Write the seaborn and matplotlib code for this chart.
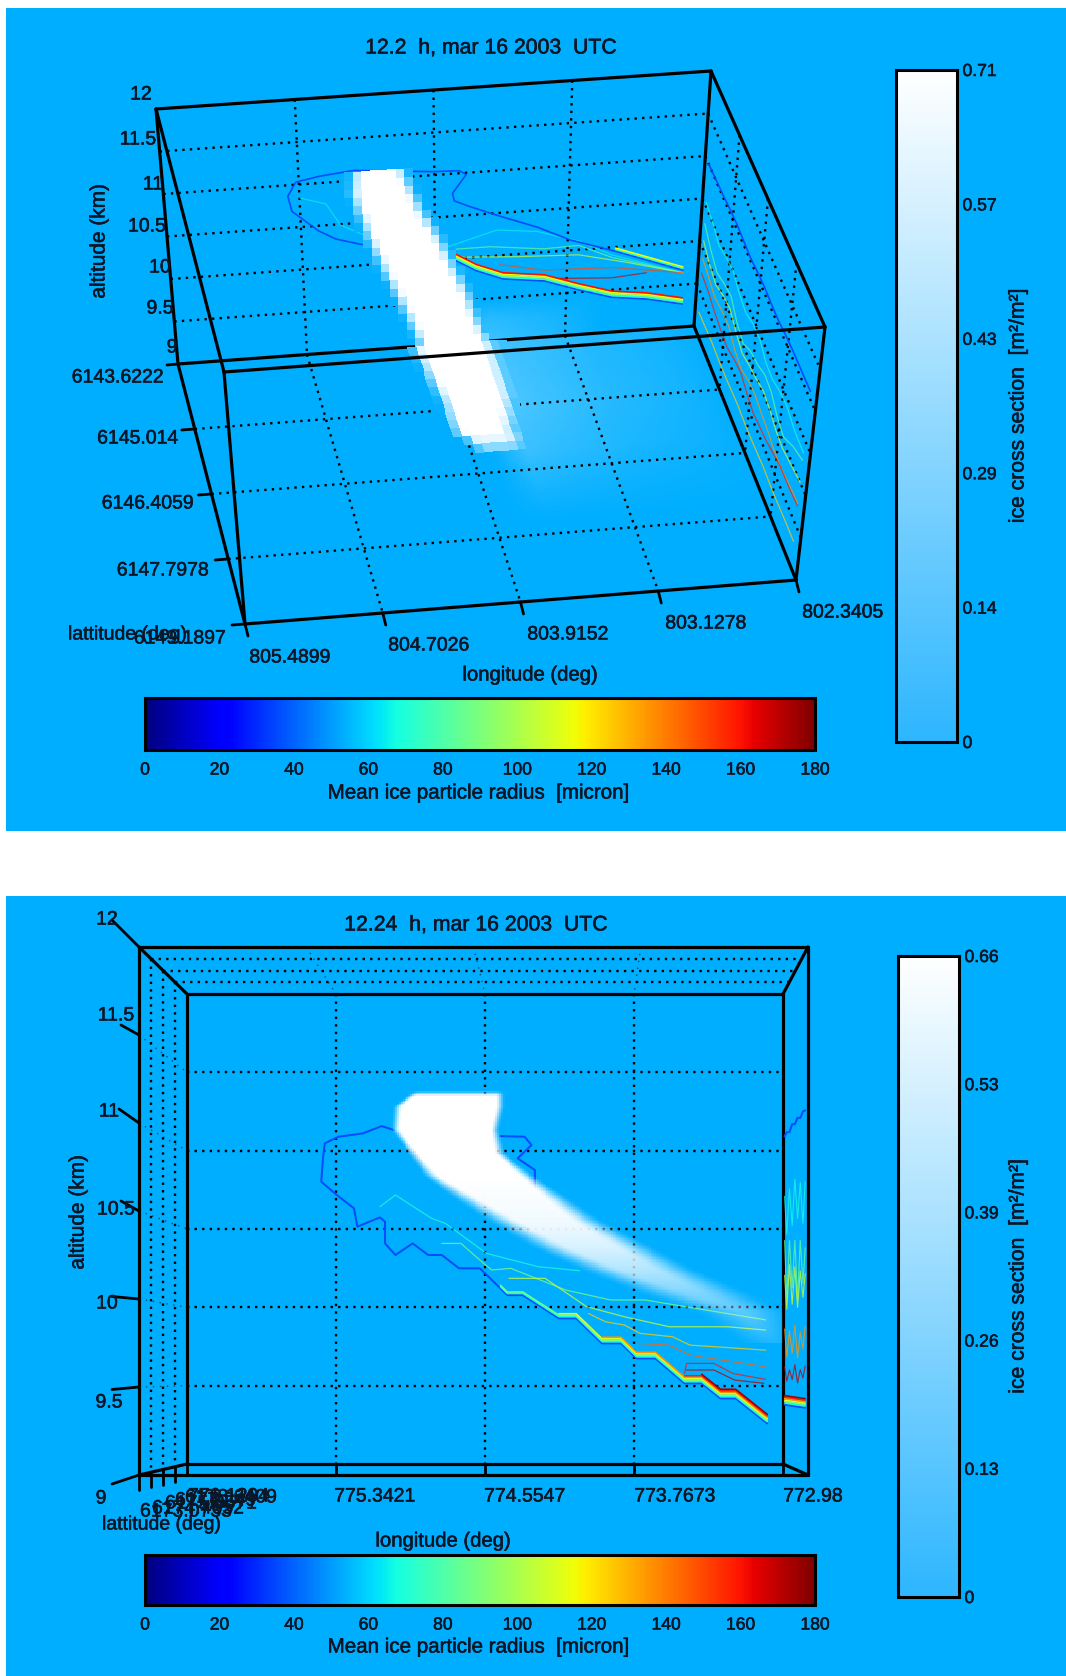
#!/usr/bin/env python3
"""Ice cross section and mean ice particle radius, two views of the same contrail box."""

import matplotlib
matplotlib.use('Agg')
import matplotlib.patheffects as pe
import matplotlib.pyplot as plt
from matplotlib.colors import LinearSegmentedColormap
from matplotlib.text import Text
import numpy as np
import pandas as pd
import seaborn as sns

# ---- top panel data
P1_LON_TICKS = [805.4899, 804.7026, 803.9152, 803.1278, 802.3405]
P1_LAT_TICKS = [6143.6222, 6145.014, 6146.4059, 6147.7978, 6149.1897]
ALT_TICKS = [9, 9.5, 10, 10.5, 11, 11.5, 12]

P1_OUTER_LON = [802.43, 802.84, 803.11, 803.31, 803.53, 803.71, 803.80, 803.81, 803.73, 803.77, 803.92, 804.38,
                804.58, 804.72, 804.77, 804.75, 804.60, 804.50, 804.36, 803.83, 803.67, 803.51, 803.26, 803.06,
                802.85, 802.64, 802.42]
P1_OUTER_ALT = [9.67, 9.95, 10.12, 10.30, 10.46, 10.60, 10.68, 10.77, 10.98, 11.03, 11.04, 11.12,
                11.08, 11.03, 10.87, 10.69, 10.44, 10.33, 10.25, 10.02, 9.84, 9.72, 9.66, 9.53,
                9.41, 9.36, 9.27]
P1_CYAN_LON = [804.70, 804.55, 804.47, 804.32, 803.83, 803.55, 803.31, 803.06, 802.86, 802.43]
P1_CYAN_ALT = [10.84, 10.75, 10.49, 10.34, 10.15, 10.30, 10.25, 10.10, 9.91, 9.64]
P1_GREEN_LON = [803.79, 803.59, 803.27, 803.06, 802.86, 802.43]
P1_GREEN_ALT = [10.11, 10.11, 10.04, 10.05, 9.88, 9.64]
P1_YELLOW_LON = [803.83, 803.43, 803.06, 802.77, 802.43]
P1_YELLOW_ALT = [10.02, 9.97, 9.94, 9.81, 9.64]
P1_BROWN_LON = [803.53, 803.27, 802.85, 802.43]
P1_BROWN_ALT = [9.89, 9.79, 9.76, 9.64]
P1_DARK_LON = [803.54, 803.27, 802.86, 802.65]
P1_DARK_ALT = [9.79, 9.69, 9.64, 9.67]

P1_SIDE_LAT = [6143.8, 6144.15, 6144.5, 6144.85, 6145.2, 6145.55, 6145.9, 6146.25, 6146.6, 6146.95, 6147.3, 6147.65,
               6148.0, 6148.45, 6148.9]
P1_SIDE_BLUE = [11.0, 11.01, 11.02, 11.04, 11.05, 11.04, 11.03, 11.05, 11.06, 11.05, 11.05, 11.07, 11.08, 11.08, 11.08]
P1_SIDE_CYAN = [10.55, 10.5, 10.42, 10.47, 10.5, 10.42, 10.38, 10.44, 10.45, 10.36, 10.35, 10.4, 10.42, 10.36, 10.35]
P1_SIDE_GREEN = [10.3, 10.18, 10.1, 10.16, 10.2, 10.08, 10.02, 10.12, 10.15, 10.22, 10.2, 10.1, 10.05, 10.18, 10.26]
P1_SIDE_YELLOW = [10.1, 10.0, 9.95, 10.02, 10.05, 9.96, 9.9, 9.95, 9.98, 10.03, 10.0, 9.94, 9.92, 9.96, 10.0]
P1_SIDE_ORANGE = [9.9, 9.85, 9.8, 9.84, 9.85, 9.76, 9.72, 9.78, 9.8, 9.77, 9.75, 9.71, 9.7, 9.73, 9.75]
P1_SIDE_PURPLE = [9.72, 9.7, 9.65, 9.62, 9.6, 9.65, 9.68, 9.62, 9.58, 9.6, 9.62, 9.66, 9.7, 9.7, 9.72]
P1_SIDE_EDGE = [9.26, 9.27, 9.28, 9.27, 9.27, 9.28, 9.29, 9.28, 9.28, 9.29, 9.3, 9.29, 9.29, 9.3, 9.3]

# plume on the back wall: altitude rows with the east and west edges of the core
P1_WALL_ALT = [9.0, 9.27, 9.6, 9.92, 10.25, 10.58, 10.84, 11.12]
P1_WALL_EAST = [804.0, 804.06, 804.14, 804.22, 804.29, 804.35, 804.39, 804.38]
P1_WALL_WEST = [803.6, 803.67, 803.73, 803.81, 803.89, 803.99, 804.05, 804.11]
P1_WALL_TAIL_LON = [802.9, 803.2, 803.6, 803.8]
P1_WALL_TAIL_ICE = [0, 0.12, 0.24, 0]
P1_WALL_TAIL_ALT = [9, 9.25, 9.5]
P1_WALL_TAIL_FADE = [1, 0.7, 0]
# plume on the floor, latitude rows
P1_FLOOR_LAT = [6143.62, 6144.06, 6144.79, 6145.5, 6145.8, 6146.0]
P1_FLOOR_EAST = [804.05, 804.03, 803.98, 803.96, 803.87, 803.87]
P1_FLOOR_WEST = [803.58, 803.58, 803.58, 803.63, 803.6, 803.6]
P1_FLOOR_PEAK = [1, 1, 1, 1, 0.85, 0]
P1_TAIL_LON = [802.34, 802.56, 802.97, 803.38, 803.6, 803.8]
P1_TAIL_ICE = [0.02, 0.08, 0.14, 0.24, 0.3, 0]
P1_TAIL_LAT = [6143.62, 6145, 6146, 6146.8, 6147.5]
P1_TAIL_FADE = [0.9, 1, 0.75, 0.3, 0]

# ---- bottom panel data
P2_LON_TICKS = [776.1294, 775.3421, 774.5547, 773.7673, 772.98]
P2_LAT_TICKS = [6173.0733, 6174.4652, 6175.8571, 6177.249, 6178.6409]

P2_OUTER_LON = [775.037, 775.101, 775.201, 775.329, 775.401, 775.41, 775.42, 775.338, 775.247, 775.229, 775.11,
                775.083, 775.083, 775.028, 774.937, 774.855, 774.783, 774.692, 774.582, 774.473, 774.437, 774.355,
                774.164, 774.073, 773.936, 773.836, 773.754, 773.654, 773.5, 773.41, 773.31, 773.23, 773.063]
P2_OUTER_ALT = [11.132, 11.157, 11.11, 11.089, 11.047, 10.962, 10.802, 10.717, 10.632, 10.515, 10.574,
                10.547, 10.408, 10.334, 10.408, 10.334, 10.334, 10.249, 10.249, 10.121, 10.078, 10.078,
                9.93, 9.93, 9.77, 9.77, 9.674, 9.674, 9.515, 9.515, 9.419, 9.419, 9.259]
P2_RIGHT_LON = [774.473, 774.346, 774.309, 774.382, 774.291, 774.291]
P2_RIGHT_ALT = [11.093, 11.089, 11.036, 10.951, 10.876, 10.77]
P2_CYAN_LON = [775.11, 775.028, 774.837, 774.764, 774.546, 774.273, 774.055]
P2_CYAN_ALT = [10.642, 10.717, 10.568, 10.536, 10.344, 10.259, 10.234]
P2_GREEN_LON = [774.783, 774.682, 774.582, 774.519, 774.419, 774.127, 773.891, 773.709, 773.072]
P2_GREEN_ALT = [10.408, 10.408, 10.302, 10.238, 10.249, 10.11, 10.047, 10.047, 9.92]
P2_YELLOW_LON = [774.428, 774.237, 774.018, 773.818, 773.581, 773.272, 773.072]
P2_YELLOW_ALT = [10.185, 10.185, 10.004, 9.94, 9.876, 9.876, 9.855]
P2_ORANGE_LON = [774.009, 773.918, 773.818, 773.736, 773.563, 773.472, 773.072]
P2_ORANGE_ALT = [9.961, 9.908, 9.887, 9.834, 9.812, 9.759, 9.727]
P2_BROWN_LON = [773.754, 773.581, 773.472, 773.072]
P2_BROWN_ALT = [9.77, 9.759, 9.695, 9.621]
P2_RED_LON = [773.5, 773.49, 773.345, 773.245, 773.072]
P2_RED_ALT = [9.578, 9.642, 9.642, 9.578, 9.54]
P2_DARK_LON = [773.49, 773.345, 773.236, 773.081]
P2_DARK_ALT = [9.6, 9.6, 9.536, 9.515]

P2_SIDE_LAT = [6178.3, 6177.8, 6177.2, 6176.6, 6176.0, 6175.4, 6174.8, 6174.2, 6173.7]
P2_SIDE_BLUE = [11.08, 11.09, 11.07, 11.1, 11.08, 11.1, 11.08, 11.1, 11.09]
P2_SIDE_CYAN = [10.7, 10.45, 10.72, 10.48, 10.75, 10.5, 10.7, 10.45, 10.68]
P2_SIDE_GREEN = [10.42, 10.05, 10.4, 10.1, 10.38, 10.02, 10.36, 10.1, 10.3]
P2_SIDE_YELLOW = [10.2, 9.98, 10.25, 10.0, 10.22, 9.97, 10.18, 10.02, 10.15]
P2_SIDE_ORANGE = [9.86, 9.68, 9.84, 9.7, 9.87, 9.67, 9.82, 9.72, 9.85]
P2_SIDE_RED = [9.62, 9.53, 9.6, 9.54, 9.63, 9.52, 9.6, 9.55, 9.62]
P2_SIDE_EDGE = [9.38, 9.38, 9.38, 9.38, 9.38, 9.38, 9.38, 9.38, 9.38]

P2_PLUME_ALT = [9.77, 9.961, 10.089, 10.238, 10.387, 10.557, 10.706, 10.834, 10.983, 11.132, 11.281, 11.366]
P2_PLUME_EAST = [773.09, 773.308, 773.618, 773.945, 774.218, 774.473, 774.673, 774.837, 774.937, 775.028, 775.019, 774.928]
P2_PLUME_WEST = [772.981, 773.054, 773.272, 773.545, 773.763, 774.018, 774.182, 774.328, 774.473, 774.5, 774.473, 774.473]
P2_PLUME_PEAK = [0.2, 0.35, 0.5, 0.7, 0.85, 0.95, 0.98, 1, 1, 1, 1, 1]
P2_PLUME_SOFT = [0.3, 0.3, 0.3, 0.25, 0.22, 0.18, 0.14, 0.09, 0.06, 0.05, 0.05, 0.05]

RADIUS_TICKS = [0, 20, 40, 60, 80, 100, 120, 140, 160, 180]
P1_ICE_TICKS = [0, 0.142, 0.284, 0.426, 0.568, 0.71]
P1_ICE_LABELS = ['0', '0.14', '0.29', '0.43', '0.57', '0.71']
P2_ICE_TICKS = [0, 0.132, 0.264, 0.396, 0.528, 0.66]
P2_ICE_LABELS = ['0', '0.13', '0.26', '0.39', '0.53', '0.66']

# ---- layout, in pixels of the 1066x1676 page
W, H = 1066, 1676
BLUE = '#00aeff'
INK = '#0c1626'
P1_CORNERS = {'A': (156, 109), 'B': (711, 71), 'C': (178, 364), 'D': (694, 326),
              'E': (224, 372), 'F': (825, 327), 'G': (245, 624), 'H': (796, 580)}
P2_CORNERS = {'A': (139, 947), 'B': (808, 947), 'C': (139, 1475), 'D': (808, 1475),
              'E': (187, 994), 'F': (783, 994), 'G': (187, 1464), 'H': (783, 1464)}
P1_BOX = dict(corners=P1_CORNERS, lon=(P1_LON_TICKS[0], P1_LON_TICKS[-1]), lat=(P1_LAT_TICKS[0], P1_LAT_TICKS[-1]))
P2_BOX = dict(corners=P2_CORNERS, lon=(P2_LON_TICKS[0], P2_LON_TICKS[-1]), lat=(P2_LAT_TICKS[0], P2_LAT_TICKS[-1]))
EDGES = ['AB', 'AE', 'BF', 'AC', 'BD', 'CD', 'CG', 'DH', 'GH', 'EG', 'FH']


def project(box, lon, lat, alt):
    """Trilinear map from (lon, lat, alt) to page pixels through the eight box corners."""
    u = (box['lon'][0] - np.asarray(lon, float)) / (box['lon'][0] - box['lon'][1])
    v = (np.asarray(lat, float) - box['lat'][0]) / (box['lat'][1] - box['lat'][0])
    w = (12 - np.asarray(alt, float)) / 3
    c = {k: np.array(p, float) for k, p in box['corners'].items()}
    out = []
    for i in (0, 1):
        top = (1 - u) * (1 - v) * c['A'][i] + u * (1 - v) * c['B'][i] + (1 - u) * v * c['E'][i] + u * v * c['F'][i]
        bot = (1 - u) * (1 - v) * c['C'][i] + u * (1 - v) * c['D'][i] + (1 - u) * v * c['G'][i] + u * v * c['H'][i]
        out.append((1 - w) * top + w * bot)
    return out


def draw_lines(ax, segments, **kws):
    """segments: list of (x, y) page pixel arrays, all one black style."""
    rows = [pd.DataFrame({'x': x, 'y': y, 'seg': i}) for i, (x, y) in enumerate(segments)]
    sns.lineplot(data=pd.concat(rows), x='x', y='y', units='seg', estimator=None, sort=False,
                 color='black', legend=False, ax=ax, **kws)


def draw_contours(ax, box, contours, lw, alpha=1.0):
    """contours: list of (radius, lon, lat, alt, pixel shift). Colour comes from radius on the jet scale."""
    rows = []
    for i, (radius, lon, lat, alt, shift) in enumerate(contours):
        n = max(np.size(lon), np.size(lat), np.size(alt))
        x, y = project(box, np.full(n, lon) if np.size(lon) == 1 else lon,
                       np.full(n, lat) if np.size(lat) == 1 else lat, alt)
        rows.append(pd.DataFrame({'x': x, 'y': y + shift, 'radius': radius, 'seg': i}))
    sns.lineplot(data=pd.concat(rows), x='x', y='y', hue='radius', hue_norm=(0, 180), palette=plt.get_cmap('jet'),
                 units='seg', estimator=None, sort=False, legend=False, ax=ax, linewidth=lw, alpha=alpha, zorder=3)


def draw_box(ax, box):
    segs = []
    for a, b in EDGES:
        p, q = box['corners'][a], box['corners'][b]
        segs.append((np.array([p[0], q[0]], float), np.array([p[1], q[1]], float)))
    draw_lines(ax, segs, linewidth=2.3, zorder=2.5)
    # the top front edge stays in front of the plume
    p, q = box['corners']['E'], box['corners']['F']
    draw_lines(ax, [(np.array([p[0], q[0]], float), np.array([p[1], q[1]], float))], linewidth=2.3, zorder=5)


def dotted_face(box, fixed, value, lon_ticks, lat_ticks, across=True):
    """Grid lines on one wall of the box."""
    segs = []
    lon = (lon_ticks[0], lon_ticks[-1])
    lat = (lat_ticks[0], lat_ticks[-1])
    alt = (12, 9)
    if fixed == 'lat':
        segs += [project(box, [t, t], [value] * 2, alt) for t in lon_ticks[1:-1]]
        segs += [project(box, lon, [value] * 2, [t, t]) for t in ALT_TICKS[1:-1]]
    elif fixed == 'alt':
        if across:
            segs += [project(box, [t, t], lat, [value] * 2) for t in lon_ticks[1:-1]]
        else:
            segs += [project(box, lon, [t, t], [value] * 2) for t in lat_ticks[1:-1]]
            return segs
        if value == 9:
            segs += [project(box, lon, [t, t], [value] * 2) for t in lat_ticks[1:-1]]
    else:
        if across:
            segs += [project(box, [value] * 2, lat, [t, t]) for t in ALT_TICKS[1:-1]]
            segs += [project(box, [value] * 2, [t, t], alt) for t in lat_ticks[1:-1]]
        else:
            segs += [project(box, [value] * 2, [t, t], alt) for t in lat_ticks[1:-1]]
    return segs


def ramp(d):
    d = np.clip(d, 0, 1)
    return d * d * (3 - 2 * d)


def ice_alpha_mesh(ax, X, Y, C):
    ice = LinearSegmentedColormap.from_list('ice', [(1, 1, 1, 0), (1, 1, 1, 1)])
    ax.pcolormesh(X, Y, C, cmap=ice, vmin=0, vmax=1, shading='flat', zorder=4, linewidth=0)


def ice_solid_mesh(ax, X, Y, C, zorder):
    ice = LinearSegmentedColormap.from_list('icesolid', [BLUE, '#ffffff'])
    ax.pcolormesh(X, Y, C, cmap=ice, vmin=0, vmax=1, shading='flat', zorder=zorder, linewidth=0)


def wall_tail(lon, alt):
    return np.interp(lon, P1_WALL_TAIL_LON, P1_WALL_TAIL_ICE) * np.interp(alt, P1_WALL_TAIL_ALT, P1_WALL_TAIL_FADE)


def floor_tail(lon, lat):
    return np.interp(lon, P1_TAIL_LON, P1_TAIL_ICE) * np.interp(lat, P1_TAIL_LAT, P1_TAIL_FADE)


def draw_p1_plume(ax):
    box = P1_BOX
    lat0 = box['lat'][0]

    # faint spread on the wall and on the floor, under the grid dots
    lon_e = np.arange(802.34, 804.0, 0.02)
    alt_e = np.arange(9.0, 9.52, 0.02)
    lon_c, alt_c = np.meshgrid((lon_e[:-1] + lon_e[1:]) / 2, (alt_e[:-1] + alt_e[1:]) / 2)
    C = wall_tail(lon_c, alt_c)
    lon_g, alt_g = np.meshgrid(lon_e, alt_e)
    X, Y = project(box, lon_g, np.full(lon_g.shape, lat0), alt_g)
    ice_solid_mesh(ax, X, Y, np.ma.masked_less_equal(C, 0.004), 1.5)

    lat_e = np.arange(lat0, 6147.6, 0.05)
    lon_c, lat_c = np.meshgrid((lon_e[:-1] + lon_e[1:]) / 2, (lat_e[:-1] + lat_e[1:]) / 2)
    C = floor_tail(lon_c, lat_c)
    lon_g, lat_g = np.meshgrid(lon_e, lat_e)
    X, Y = project(box, lon_g, lat_g, np.full(lon_g.shape, 9.0))
    ice_solid_mesh(ax, X, Y, np.ma.masked_less_equal(C, 0.004), 1.5)

    # core on the back wall, cells about 8 px wide as in the coarse model grid
    lon_e = np.arange(802.34, 805.49, 0.05)
    alt_e = np.arange(9.0, 11.2, 0.1)
    lon_c, alt_c = np.meshgrid((lon_e[:-1] + lon_e[1:]) / 2, (alt_e[:-1] + alt_e[1:]) / 2)
    east = np.interp(alt_c, P1_WALL_ALT, P1_WALL_EAST)
    west = np.interp(alt_c, P1_WALL_ALT, P1_WALL_WEST)
    core = ramp((east - lon_c) / 0.1 + 0.5) * ramp((lon_c - west) / 0.1 + 0.5)
    C = np.ma.masked_where(core <= 0.02, np.maximum(core, wall_tail(lon_c, alt_c)))
    lon_g, alt_g = np.meshgrid(lon_e, alt_e)
    X, Y = project(box, lon_g, np.full(lon_g.shape, lat0), alt_g)
    ice_solid_mesh(ax, X, Y, C, 4)

    # core on the floor
    lat_e = np.arange(lat0, 6146.2, 0.18)
    lon_c, lat_c = np.meshgrid((lon_e[:-1] + lon_e[1:]) / 2, (lat_e[:-1] + lat_e[1:]) / 2)
    east = np.interp(lat_c, P1_FLOOR_LAT, P1_FLOOR_EAST)
    west = np.interp(lat_c, P1_FLOOR_LAT, P1_FLOOR_WEST)
    core = ramp((east - lon_c) / 0.1 + 0.5) * ramp((lon_c - west) / 0.16 + 0.5) * np.interp(lat_c, P1_FLOOR_LAT, P1_FLOOR_PEAK)
    C = np.ma.masked_where(core <= 0.02, np.maximum(core, floor_tail(lon_c, lat_c)))
    lon_g, lat_g = np.meshgrid(lon_e, lat_e)
    X, Y = project(box, lon_g, lat_g, np.full(lon_g.shape, 9.0))
    ice_solid_mesh(ax, X, Y, C, 4)


def draw_p2_plume(ax):
    box = P2_BOX
    lon_e = np.arange(772.98, 776.13, 0.01)
    alt_e = np.arange(9.3, 11.42, 0.01)
    lon_c, alt_c = np.meshgrid((lon_e[:-1] + lon_e[1:]) / 2, (alt_e[:-1] + alt_e[1:]) / 2)
    east = np.interp(alt_c, P2_PLUME_ALT, P2_PLUME_EAST)
    west = np.interp(alt_c, P2_PLUME_ALT, P2_PLUME_WEST)
    soft = np.interp(alt_c, P2_PLUME_ALT, P2_PLUME_SOFT)
    peak = np.interp(alt_c, P2_PLUME_ALT, P2_PLUME_PEAK, left=0)
    C = ramp((east - lon_c) / soft + 0.5) * ramp((lon_c - west) / soft + 0.5) * peak
    C = C * ramp((P2_PLUME_ALT[-1] + 0.02 - alt_c) / 0.04) * ramp((alt_c - 9.55) / 0.25)
    lon_g, alt_g = np.meshgrid(lon_e, alt_e)
    X, Y = project(box, lon_g, np.full(lon_g.shape, box['lat'][1]), alt_g)
    ice_alpha_mesh(ax, X, Y, C)


def colorbar_axes(fig, x0, y0, x1, y1):
    return fig.add_axes([x0 / W, 1 - y1 / H, (x1 - x0) / W, (y1 - y0) / H])


def finish_bar(ax):
    for s in ax.spines.values():
        s.set_visible(True)
        s.set_linewidth(2.2)
        s.set_color('black')


def radius_bar(fig, y0, y1, label_y):
    ax = colorbar_axes(fig, 145, y0, 815, y1)
    n = 256
    sns.heatmap(np.arange(n)[None, :] / (n - 1), ax=ax, cmap='jet', cbar=False, xticklabels=False, yticklabels=False)
    finish_bar(ax)
    ax.set_xticks(np.array(RADIUS_TICKS) / 180 * n)
    ax.set_xticklabels(RADIUS_TICKS, fontsize=12.6, color=INK)
    ax.tick_params(axis='x', direction='in', length=4, width=1.3, top=True, bottom=True, pad=9, color='black')
    ax.set_xlabel('')
    ax.set_yticks([])
    fig.text(478 / W, 1 - label_y / H, 'Mean ice particle radius  [micron]', ha='center', va='center', fontsize=14.8, color=INK)


def ice_bar(fig, x0, y0, x1, y1, ticks, labels):
    ax = colorbar_axes(fig, x0, y0, x1, y1)
    n = 256
    cmap = LinearSegmentedColormap.from_list('icebar', ['#2db6ff', '#ffffff'])
    sns.heatmap(np.arange(n)[::-1, None] / (n - 1), ax=ax, cmap=cmap, cbar=False, xticklabels=False, yticklabels=False)
    finish_bar(ax)
    ax.set_yticks((ticks[-1] - np.array(ticks)) / ticks[-1] * n)
    ax.set_yticklabels(labels, fontsize=12.6, color=INK, rotation=0)
    ax.yaxis.tick_right()
    ax.tick_params(axis='y', direction='in', length=4, width=1.3, left=True, right=True, pad=4, color='black')
    ax.set_xticks([])
    ax.set_ylabel('')
    fig.text(1018 / W, 1 - (y0 + y1) / 2 / H, 'ice cross section  [m²/m²]', rotation=90, ha='center', va='center',
             fontsize=15.2, color=INK)


def put_text(ax, items, **kws):
    for x, y, s in items:
        ax.text(x, y, s, ha=kws.get('ha', 'center'), va='center', fontsize=kws.get('fontsize', 14), color=INK,
                rotation=kws.get('rotation', 0), zorder=6)


def top_panel(fig, ax):
    box = P1_BOX
    lon0, lon1 = box['lon']
    lat0, lat1 = box['lat']
    dots = dotted_face(box, 'lat', lat0, P1_LON_TICKS, P1_LAT_TICKS) + dotted_face(box, 'alt', 9, P1_LON_TICKS, P1_LAT_TICKS) \
        + dotted_face(box, 'lon', lon1, P1_LON_TICKS, P1_LAT_TICKS)
    draw_lines(ax, dots, linewidth=1.7, linestyle=(0, (1, 2.2)), zorder=2)
    draw_box(ax, box)

    thin = [(65, P1_CYAN_LON, lat0, P1_CYAN_ALT, 0), (85, P1_GREEN_LON, lat0, P1_GREEN_ALT, 0),
            (105, P1_YELLOW_LON, lat0, P1_YELLOW_ALT, 0), (150, P1_BROWN_LON, lat0, P1_BROWN_ALT, 0),
            (168, P1_DARK_LON, lat0, P1_DARK_ALT, 0),
            (68, lon1, P1_SIDE_LAT, P1_SIDE_CYAN, 0), (85, lon1, P1_SIDE_LAT, P1_SIDE_GREEN, 0),
            (105, lon1, P1_SIDE_LAT, P1_SIDE_YELLOW, 0), (135, lon1, P1_SIDE_LAT, P1_SIDE_ORANGE, 0),
            (160, lon1, P1_SIDE_LAT, P1_SIDE_PURPLE, 0), (125, lon1, P1_SIDE_LAT, P1_SIDE_EDGE, 0)]
    draw_contours(ax, box, thin, 0.9, alpha=0.7)
    thick = [(36, P1_OUTER_LON, lat0, P1_OUTER_ALT, 0), (36, lon1, P1_SIDE_LAT, P1_SIDE_BLUE, 0)]
    for level, shift in [(70, -1.7), (95, -3.2), (115, -4.7), (160, -6.2)]:
        thick.append((level, P1_OUTER_LON[19:], lat0, P1_OUTER_ALT[19:], shift))
    for level, shift in [(70, -1.7), (115, -3.2)]:
        thick.append((level, P1_OUTER_LON[:2], lat0, P1_OUTER_ALT[:2], shift))
    draw_contours(ax, box, thick, 1.2)
    draw_p1_plume(ax)

    # axis ticks
    ticks = []
    for t in P1_LON_TICKS:
        x, y = project(box, t, lat1, 9)
        ticks.append((np.array([x, x + 3]), np.array([y, y + 12])))
    for t in P1_LAT_TICKS[1:]:
        x, y = project(box, lon0, t, 9)
        ticks.append((np.array([x, x - 13]), np.array([y, y + 1])))
    x, y = project(box, lon0, lat0, 9)
    ticks.append((np.array([x, x - 11]), np.array([y, y + 1])))
    draw_lines(ax, ticks, linewidth=2.0, zorder=2.5)

    put_text(ax, [(491, 48, '12.2  h, mar 16 2003  UTC')], fontsize=15.3)
    put_text(ax, [(141, 95, '12'), (138, 140, '11.5'), (153, 185, '11'), (147, 227, '10.5'), (160, 268, '10'),
                  (160, 309, '9.5'), (172, 348, '9')])
    put_text(ax, [(118, 378, '6143.6222'), (138, 439, '6145.014'), (148, 504, '6146.4059'), (163, 571, '6147.7978'),
                  (180, 639, '6149.1897'), (128, 635, 'lattitude (deg)')])
    put_text(ax, [(290, 658, '805.4899'), (429, 646, '804.7026'), (568, 635, '803.9152'), (706, 624, '803.1278'),
                  (843, 613, '802.3405')])
    put_text(ax, [(530, 675, 'longitude (deg)')], fontsize=14.6)
    put_text(ax, [(99, 241, 'altitude (km)')], rotation=90, fontsize=15)


def bottom_panel(fig, ax):
    box = P2_BOX
    lon0, lon1 = box['lon']
    lat0, lat1 = box['lat']
    dots = dotted_face(box, 'lat', lat1, P2_LON_TICKS, P2_LAT_TICKS) \
        + dotted_face(box, 'alt', 12, P2_LON_TICKS, P2_LAT_TICKS, across=False) \
        + dotted_face(box, 'lon', lon0, P2_LON_TICKS, P2_LAT_TICKS, across=False)
    draw_lines(ax, dots, linewidth=1.7, linestyle=(0, (1, 2.2)), zorder=2)
    # the cross lines of the two narrow bands hardly show
    faint = [project(box, [t, t], (lat0, lat1), [12, 12]) for t in P2_LON_TICKS[1:-1]]
    faint += [project(box, [lon0, lon0], (lat0, lat1), [t, t]) for t in ALT_TICKS[1:-1]]
    draw_lines(ax, faint, linewidth=1.0, linestyle=(0, (1, 4)), alpha=0.55, zorder=2)
    draw_box(ax, box)

    thin = [(70, P2_CYAN_LON, lat1, P2_CYAN_ALT, 0), (90, P2_GREEN_LON, lat1, P2_GREEN_ALT, 0),
            (108, P2_YELLOW_LON, lat1, P2_YELLOW_ALT, 0), (125, P2_ORANGE_LON, lat1, P2_ORANGE_ALT, 0),
            (145, P2_BROWN_LON, lat1, P2_BROWN_ALT, 0), (160, P2_RED_LON, lat1, P2_RED_ALT, 0),
            (170, P2_DARK_LON, lat1, P2_DARK_ALT, 0)]
    draw_contours(ax, box, thin, 0.9, alpha=0.75)
    side = [(68, lon1, P2_SIDE_LAT, P2_SIDE_CYAN, 0), (85, lon1, P2_SIDE_LAT, P2_SIDE_GREEN, 0),
            (108, lon1, P2_SIDE_LAT, P2_SIDE_YELLOW, 0), (135, lon1, P2_SIDE_LAT, P2_SIDE_ORANGE, 0),
            (172, lon1, P2_SIDE_LAT, P2_SIDE_RED, 0)]
    draw_contours(ax, box, side, 0.8, alpha=0.75)
    outer = [(36, P2_OUTER_LON, lat1, P2_OUTER_ALT, 0), (36, P2_RIGHT_LON, lat1, P2_RIGHT_ALT, 0),
             (36, lon1, P2_SIDE_LAT, P2_SIDE_BLUE, 0), (36, lon1, P2_SIDE_LAT, P2_SIDE_EDGE, 0)]
    draw_contours(ax, box, outer, 1.45)
    thick = []
    for level, start, shift in [(68, 19, -1.6), (88, 19, -3.1), (112, 22, -4.6), (135, 24, -6.1), (158, 28, -7.6), (175, 29, -9.1)]:
        thick.append((level, P2_OUTER_LON[start:], lat1, P2_OUTER_ALT[start:], shift))
    for level, shift in [(68, -1.6), (88, -3.1), (112, -4.6), (135, -6.1), (158, -7.6), (175, -9.1)]:
        thick.append((level, lon1, P2_SIDE_LAT, P2_SIDE_EDGE, shift))
    draw_contours(ax, box, thick, 1.15)
    draw_p2_plume(ax)

    ticks = []
    for t in P2_LON_TICKS:
        x, y = project(box, t, lat1, 9)
        ticks.append((np.array([x, x]), np.array([y, y + 11])))
    for t in P2_LAT_TICKS[:-1]:
        x, y = project(box, lon0, t, 9)
        ticks.append((np.array([x, x]), np.array([y, y + 15])))
    for t, dx, dy in zip(ALT_TICKS, [-27, -27, -27, -18, -20, -18, -27], [9, 2.5, -2.5, -10, -14, -10, -27]):
        x, y = project(box, lon0, lat0, t)
        ticks.append((np.array([x, x + dx]), np.array([y, y + dy])))
    draw_lines(ax, ticks, linewidth=2.0, zorder=2.5)

    put_text(ax, [(476, 925, '12.24  h, mar 16 2003  UTC')], fontsize=15.3)
    put_text(ax, [(107, 920, '12'), (116, 1016, '11.5'), (109, 1112, '11'), (116, 1210, '10.5'), (107, 1304, '10'),
                  (109, 1403, '9.5'), (101, 1499, '9')])
    put_text(ax, [(140, 1512, '6173.0733'), (152, 1509, '6174.4652'), (165, 1504, '6175.8571'), (175, 1501, '6177.249'),
                  (185, 1498, '6178.6409'), (188, 1497, '776.1294')], ha='left')
    put_text(ax, [(375, 1497, '775.3421'), (525, 1497, '774.5547'), (675, 1497, '773.7673'), (813, 1497, '772.98'),
                  (162, 1525, 'lattitude (deg)')])
    put_text(ax, [(443, 1541, 'longitude (deg)')], fontsize=14.6)
    put_text(ax, [(78, 1212, 'altitude (km)')], rotation=90, fontsize=15)


def main():
    sns.set_theme(style='white')
    plt.rcParams['font.family'] = ['Liberation Sans', 'DejaVu Sans']
    fig = plt.figure(figsize=(W / 100, H / 100), dpi=100, facecolor='white')
    ax = fig.add_axes([0, 0, 1, 1])
    ax.set_xlim(0, W)
    ax.set_ylim(H, 0)
    ax.axis('off')
    ax.add_patch(plt.Rectangle((6, 8), W - 6, 823, color=BLUE, zorder=0, linewidth=0))
    ax.add_patch(plt.Rectangle((6, 896), W - 6, H - 896, color=BLUE, zorder=0, linewidth=0))

    top_panel(fig, ax)
    bottom_panel(fig, ax)
    ax.set_xlim(0, W)
    ax.set_ylim(H, 0)
    ax.set_xlabel('')
    ax.set_ylabel('')

    radius_bar(fig, 698, 750, 793)
    radius_bar(fig, 1555, 1605, 1647)
    ice_bar(fig, 896, 70, 957, 742, P1_ICE_TICKS, P1_ICE_LABELS)
    ice_bar(fig, 898, 956, 959, 1597, P2_ICE_TICKS, P2_ICE_LABELS)

    # the scanned original prints its text a little heavier
    for t in fig.findobj(Text):
        t.set_path_effects([pe.withStroke(linewidth=0.4, foreground=INK)])

    fig.savefig('out.png', dpi=100, facecolor='white')
    plt.close(fig)


if __name__ == '__main__':
    main()
